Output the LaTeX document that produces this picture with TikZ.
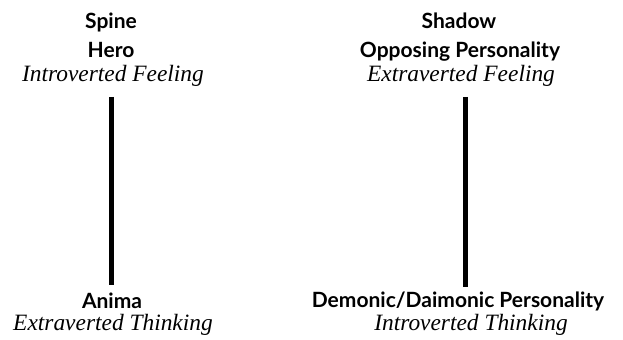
\documentclass[tikz,border=0pt]{standalone}
\usepackage{fontspec}
\setmainfont{Liberation Serif}
\setsansfont{Lato}
\usepackage{tikz}
\usetikzlibrary{positioning}
\tikzset{
  rolename/.style={font=\sffamily\bfseries\fontsize{10.5}{12}\selectfont,inner sep=0pt,anchor=base},
  funcname/.style={font=\itshape\fontsize{11.7}{13}\selectfont,inner sep=0pt,anchor=base},
  axis/.style={draw=black,line width=2.5pt},
}
\begin{document}
\begin{tikzpicture}[x=0.5pt,y=-0.5pt]
  \useasboundingbox (0,0) rectangle (623,340);
  % left column
  \node[rolename] (spine) at (111,29) {Spine};
  \node[rolename] (hero) at (111,58) {Hero};
  \node[funcname] (intfeel) at (113,82) {Introverted Feeling};
  \node[rolename] (anima) at (112,309) {Anima};
  \node[funcname] (extthink) at (113,331) {Extraverted Thinking};
  % right column
  \node[rolename] (shadow) at (459,29) {Shadow};
  \node[rolename] (opposing) at (460,58) {Opposing Personality};
  \node[funcname] (extfeel) at (461,82) {Extraverted Feeling};
  \node[rolename] (demonic) at (458,308) {Demonic/Daimonic Personality};
  \node[funcname] (intthink) at (471,331) {Introverted Thinking};
  % the two axes
  \coordinate (lefttop) at (111.5,97);
  \coordinate (leftbot) at (111.5,285);
  \coordinate (righttop) at (465.5,97);
  \coordinate (rightbot) at (465.5,287);
  \draw[axis] (lefttop) -- (leftbot);
  \draw[axis] (righttop) -- (rightbot);
\end{tikzpicture}
\end{document}
